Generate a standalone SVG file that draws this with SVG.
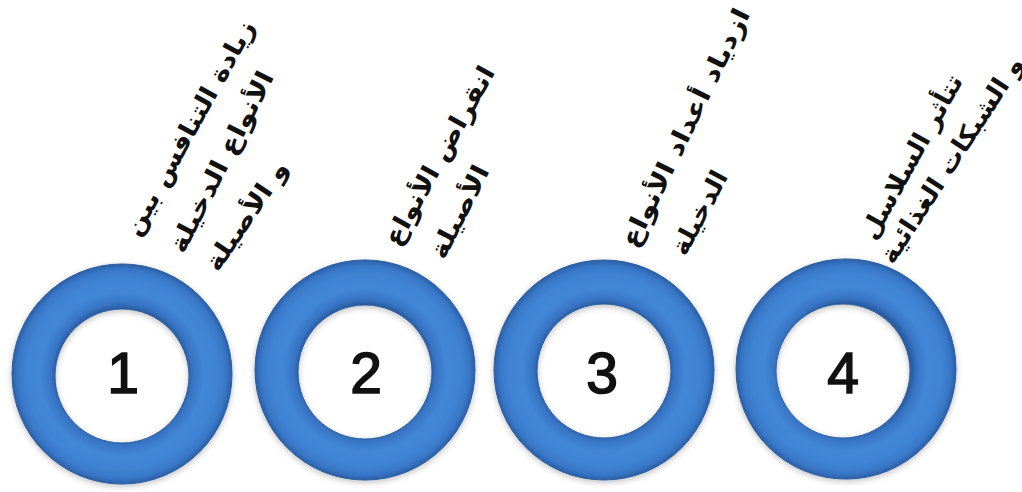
<svg xmlns="http://www.w3.org/2000/svg" width="1022" height="492" viewBox="0 0 1022 492">
  <style>
    .ring { fill: url(#ringGrad); fill-rule: evenodd; stroke: #2c5d9e; stroke-width: 1; filter: url(#glow); }
    .num { font-family: "Liberation Sans", Arial, sans-serif; font-size: 57px; fill: #111; stroke: #111; stroke-width: 1.6px; text-anchor: middle; }
    .ar { font-family: "DejaVu Sans", "Noto Sans", sans-serif; font-weight: bold; font-size: 25px; fill: #111; text-anchor: middle; }
  </style>
  <defs>
    <radialGradient id="ringGrad" cx="0.5" cy="0.5" r="0.5">
      <stop offset="0.6" stop-color="#2a5ea4"/>
      <stop offset="0.645" stop-color="#3774c4"/>
      <stop offset="0.74" stop-color="#4286d6"/>
      <stop offset="0.86" stop-color="#4185d5"/>
      <stop offset="0.95" stop-color="#3877c8"/>
      <stop offset="1" stop-color="#2b5fa6"/>
    </radialGradient>
    <filter id="glow" x="-10%" y="-10%" width="120%" height="120%">
      <feGaussianBlur in="SourceAlpha" stdDeviation="3"/>
      <feOffset dx="0" dy="2" result="b"/>
      <feComponentTransfer in="b" result="s"><feFuncA type="linear" slope="0.25"/></feComponentTransfer>
      <feMerge><feMergeNode in="s"/><feMergeNode in="SourceGraphic"/></feMerge>
    </filter>
  </defs>
  <rect width="1022" height="492" fill="#ffffff"/>

  <g id="node1">
    <path class="ring" d="M12,374 a110,110 0 1,0 220,0 a110,110 0 1,0 -220,0 Z M55,376 a67,67 0 1,1 134,0 a67,67 0 1,1 -134,0 Z"/>
    <text class="num" x="123" y="393">1</text>
    <text class="ar" transform="translate(190,128) rotate(-61)" y="8" textLength="242" lengthAdjust="spacingAndGlyphs">زيادة التنافس بين</text>
    <text class="ar" transform="translate(222,162) rotate(-63)" y="8" textLength="200" lengthAdjust="spacingAndGlyphs">الأنواع الدخيلة</text>
    <text class="ar" transform="translate(247,216) rotate(-56)" y="8" textLength="127" lengthAdjust="spacingAndGlyphs">و الأصيلة</text>
  </g>

  <g id="node2">
    <path class="ring" d="M255,370 a110,110 0 1,0 220,0 a110,110 0 1,0 -220,0 Z M298,372 a67,67 0 1,1 134,0 a67,67 0 1,1 -134,0 Z"/>
    <text class="num" x="366" y="393">2</text>
    <text class="ar" transform="translate(440,156) rotate(-61)" y="8" textLength="201" lengthAdjust="spacingAndGlyphs">انقراض الأنواع</text>
    <text class="ar" transform="translate(460,212) rotate(-63)" y="8" textLength="101" lengthAdjust="spacingAndGlyphs">الأصيلة</text>
  </g>

  <g id="node3">
    <path class="ring" d="M494,370 a110,110 0 1,0 220,0 a110,110 0 1,0 -220,0 Z M537,371 a67,67 0 1,1 134,0 a67,67 0 1,1 -134,0 Z"/>
    <text class="num" x="602" y="393">3</text>
    <text class="ar" transform="translate(686,128) rotate(-64)" y="8" textLength="262" lengthAdjust="spacingAndGlyphs">ازدياد أعداد الأنواع</text>
    <text class="ar" transform="translate(700,213) rotate(-62)" y="8" textLength="92" lengthAdjust="spacingAndGlyphs">الدخيلة</text>
  </g>

  <g id="node4">
    <path class="ring" d="M736,369 a110,110 0 1,0 220,0 a110,110 0 1,0 -220,0 Z M776,371 a67,67 0 1,1 134,0 a67,67 0 1,1 -134,0 Z"/>
    <text class="num" x="843" y="393">4</text>
    <text class="ar" transform="translate(912,157) rotate(-61)" y="8" textLength="184" lengthAdjust="spacingAndGlyphs">تتأثر السلاسل</text>
    <text class="ar" transform="translate(952,160) rotate(-57)" y="8" textLength="241" lengthAdjust="spacingAndGlyphs">و الشبكات الغذائية</text>
  </g>

  <g id="connectors"/>
</svg>
